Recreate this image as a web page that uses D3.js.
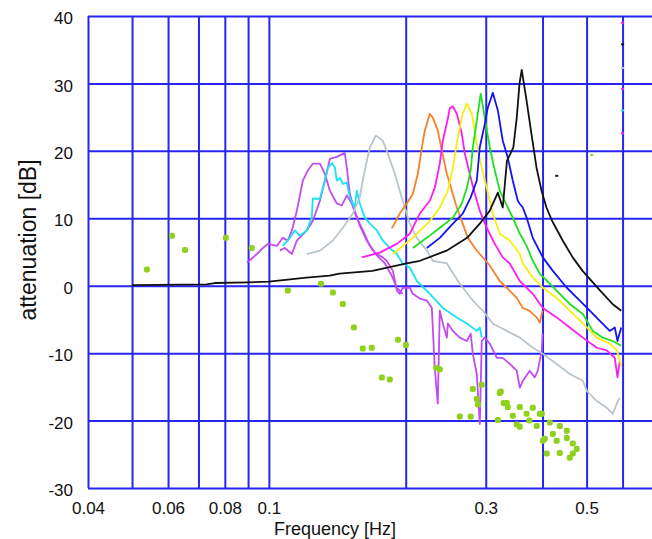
<!DOCTYPE html>
<html>
<head>
<meta charset="utf-8">
<script src="https://cdn.jsdelivr.net/npm/d3@7"></script>
<style>
  body { margin: 0; background: #fff; }
  svg { display: block; font-family: "Liberation Sans", Arial, sans-serif; }
</style>
</head>
<body>
<svg id="chart" width="652" height="539"></svg>
<script>
// ---- axis values ----
const xGrid = [0.04, 0.05, 0.06, 0.07, 0.08, 0.09, 0.1, 0.2, 0.3, 0.4, 0.5, 0.6];
const xLabels = [0.04, 0.06, 0.08, 0.1, 0.3, 0.5];
const yTicks = [-30, -20, -10, 0, 10, 20, 30, 40];

// ---- measured response curves: [frequency Hz, attenuation dB] ----
const blackCurve = [[0.05,0.1],[0.073,0.2],[0.076,0.4],[0.09,0.5],[0.1,0.6],[0.121,1.2],[0.136,1.5],[0.143,1.8],[0.169,2.2],[0.201,3.3],[0.215,3.7],[0.246,5.2],[0.273,7.1],[0.291,9.2],[0.306,11.1],[0.319,13.8],[0.327,11.6],[0.334,18.5],[0.345,20.5],[0.351,24.9],[0.356,30],[0.36,32],[0.369,27.4],[0.378,22.6],[0.388,17.5],[0.398,14.1],[0.408,11.6],[0.42,9.6],[0.443,6.7],[0.466,4.2],[0.49,2.2],[0.535,-0.7],[0.57,-2.7],[0.596,-3.7]];

const blueCurve = [[0.2226,5.6],[0.2377,7.1],[0.254,9.2],[0.267,10.7],[0.278,13.1],[0.2867,15.6],[0.291,20.5],[0.2986,24],[0.3031,26.4],[0.3109,28.6],[0.319,26],[0.327,21.5],[0.3354,19],[0.344,15.6],[0.3529,12.6],[0.356,12.2],[0.362,11.6],[0.369,10.1],[0.3807,7.1],[0.4006,4.2],[0.4214,2.2],[0.4524,-0.3],[0.4831,-2.2],[0.5082,-3.7],[0.5346,-5.2],[0.5623,-6.7],[0.5768,-6.2],[0.5848,-8.2],[0.596,-6.2]];

const greenCurve = [[0.2073,5.6],[0.2226,7.1],[0.2377,8.6],[0.254,10.1],[0.2657,12.2],[0.2726,14.5],[0.278,17.1],[0.281,20.5],[0.2867,24.5],[0.2925,28.5],[0.2986,24.9],[0.3062,20.5],[0.3141,17.1],[0.3221,14.1],[0.3337,11.9],[0.344,10.1],[0.3565,7.7],[0.369,5.9],[0.3807,3.7],[0.3945,1.8],[0.415,0.3],[0.4365,-1.2],[0.4592,-2.7],[0.4906,-4.2],[0.516,-6.7],[0.5429,-7.7],[0.5708,-8.2],[0.596,-8.9]];

const yellowCurve = [[0.1874,4.7],[0.2073,7.1],[0.226,9.6],[0.2377,11.6],[0.2476,14.1],[0.254,17.5],[0.2604,22],[0.267,25.5],[0.2726,27],[0.2796,25.5],[0.2867,21.1],[0.294,17.5],[0.3015,14.5],[0.3109,10.7],[0.3221,7.7],[0.3388,6.7],[0.3565,4.7],[0.362,3.3],[0.3807,1.2],[0.4006,-0.3],[0.4297,-1.8],[0.4592,-3.7],[0.4906,-5.6],[0.5265,-7.7],[0.5623,-8.6],[0.5826,-9.6],[0.596,-11.9]];

const magentaCurve = [[0.1601,4.2],[0.1754,4.9],[0.1912,6.2],[0.2042,7.7],[0.2148,10.7],[0.226,12.6],[0.2317,14.5],[0.2377,18.1],[0.2414,21.5],[0.2478,24.9],[0.25,26.3],[0.254,26.6],[0.2591,25.5],[0.2657,22.6],[0.2698,19.6],[0.278,16],[0.2839,13.6],[0.2911,11.1],[0.3015,8.6],[0.3141,6.2],[0.327,4.2],[0.3388,3.3],[0.3565,0.7],[0.3807,-1.2],[0.4006,-3.3],[0.4297,-4.7],[0.4592,-6.2],[0.4906,-7.7],[0.5265,-9.2],[0.5537,-9.6],[0.5768,-10.7],[0.5848,-13.6],[0.5916,-11.1]];

const orangeCurve = [[0.1864,8.5],[0.1941,10.7],[0.2011,12.2],[0.2073,13.6],[0.2127,16.6],[0.2171,20.5],[0.2203,23],[0.226,25.5],[0.2295,24.9],[0.2354,23],[0.2402,20],[0.2464,16.6],[0.2527,14.1],[0.2591,11.6],[0.267,9.2],[0.274,7.1],[0.2839,5.6],[0.2911,4.7],[0.3062,3],[0.3221,0.7],[0.3337,-0.3],[0.351,-1.8],[0.362,-3.3],[0.374,-3.7],[0.3885,-4.7],[0.3945,-5.5],[0.4,-3.7]];

const grayCurve = [[0.1212,4.7],[0.1295,5.2],[0.1383,6.7],[0.1455,8.6],[0.153,10.7],[0.1585,13.1],[0.1609,15.6],[0.1642,18.5],[0.1668,20.5],[0.1719,22.3],[0.1781,21.5],[0.1826,19.6],[0.1893,16.6],[0.1941,14.1],[0.197,12.6],[0.2042,9.2],[0.2116,7.1],[0.2226,5.2],[0.2295,3.7],[0.2464,3.3],[0.263,0.3],[0.281,-2.2],[0.2955,-3.7],[0.3109,-5.6],[0.3337,-6.7],[0.3565,-7.7],[0.3807,-9.2],[0.4006,-10.1],[0.4299,-11.6],[0.4592,-13.1],[0.4906,-14.1],[0.5006,-15.6],[0.5265,-17.1],[0.5537,-18.1],[0.5708,-19],[0.5826,-17.5],[0.5916,-16.6]];

const cyanCurve = [[0.1073,5.9],[0.1112,7.1],[0.1141,8.2],[0.117,7.4],[0.1212,8.2],[0.1243,10.1],[0.1249,12.9],[0.1295,12.9],[0.1328,15.6],[0.1349,17.5],[0.1376,18.2],[0.1397,17.5],[0.1411,15.6],[0.1433,16],[0.1455,15.1],[0.1484,15.3],[0.1507,13.1],[0.1545,11.6],[0.1561,14.1],[0.1585,12.2],[0.1626,10.1],[0.1668,9.2],[0.1728,8.2],[0.1781,6.7],[0.1845,5.6],[0.1912,4.7],[0.197,3.3],[0.2042,2.7],[0.2116,0.7],[0.226,-1.2],[0.2414,-3.3],[0.2591,-4.7],[0.2726,-5.6],[0.2867,-6.7],[0.2911,-6.2],[0.294,-7.7]];

const violetCurveA = [[0.0895,3.4],[0.0941,4.7],[0.097,5.6],[0.0995,6.2],[0.1041,5.9],[0.1073,7.1],[0.1101,6.7],[0.1124,8.2],[0.1152,11.1],[0.1188,15.6],[0.1218,17.1],[0.1249,18.1],[0.1295,18.1],[0.1328,16.6],[0.1362,14.1],[0.1411,12.2],[0.1447,11.9],[0.1484,13.4],[0.1522,12.2],[0.1561,10.1],[0.161,8.2],[0.1668,5.9],[0.1728,4.5],[0.1796,3.4],[0.1863,1.5],[0.1912,-0.3],[0.197,-1.2]];

const violetCurveB = [[0.1057,5.2],[0.1084,5.6],[0.1124,4.7],[0.1152,6.7],[0.1212,8.2],[0.1249,9.6],[0.1295,12.6],[0.1328,15.6],[0.1362,18.8],[0.1411,19.1],[0.1469,19.7],[0.1484,17.5],[0.1507,13.6],[0.1545,11.1],[0.1585,8.9],[0.1642,6.7],[0.1711,4.9],[0.1781,4.2],[0.1816,3.7],[0.1874,2.2],[0.1912,-0.7],[0.1941,-1.2],[0.197,-0.3],[0.2042,-0.3],[0.2073,-1.2],[0.2148,-1.9],[0.2226,-2.2],[0.2283,-3.3],[0.2317,-12.2],[0.2353,-17.5],[0.2377,-3.7],[0.2414,-5.6],[0.2464,-7.7],[0.2476,-5.6],[0.254,-6.7],[0.263,-7.7],[0.2726,-8.2],[0.278,-7.1],[0.281,-10.1],[0.2867,-13.1],[0.2911,-20.5],[0.294,-8.2],[0.2986,-7.7],[0.3062,-8.6],[0.3174,-10.7],[0.327,-10.7],[0.3388,-11.6],[0.351,-12.6],[0.3565,-15.1],[0.362,-14.1],[0.375,-12.6],[0.3845,-13.6],[0.3905,-12.6],[0.3985,-9.6],[0.4,-7.1]];

// ---- single measurements (scatter) ----
const scatterFreq = [0.0539,0.0612,0.0654,0.0804,0.0917,0.1101,0.1302,0.1383,0.1455,0.1538,0.1609,0.1684,0.1772,0.1845,0.1923,0.2002,0.2335,0.2377,0.263,0.2779,0.281,0.2867,0.2885,0.294,0.319,0.3237,0.3285,0.3354,0.3565,0.3807,0.369,0.3441,0.351,0.3565,0.374,0.3885,0.3985,0.4046,0.3945,0.415,0.4365,0.4524,0.4214,0.4297,0.4524,0.4663,0.4757,0.4592,0.4365,0.4087,0.4663,0.4006,0.3221,0.3337];
const scatterDb = [2.4,7.4,5.3,7.1,5.6,-0.7,0.3,-1.0,-2.7,-6.2,-9.3,-9.2,-13.6,-13.9,-8.0,-8.8,-12.2,-12.4,-19.4,-19.4,-15.3,-16.8,-17.6,-14.7,-19.9,-15.7,-17.4,-18.0,-18.0,-18.1,-19.0,-19.3,-20.6,-20.9,-20.0,-20.8,-19.0,-22.7,-19.0,-20.3,-20.8,-21.5,-22.0,-23.0,-22.6,-23.4,-24.2,-25.5,-24.8,-24.9,-24.9,-23.0,-15.9,-17.4];

// ---- isolated single-sample marks ----
const loneMarkFreq = [0.6, 0.6, 0.6, 0.6, 0.6, 0.6, 0.5133, 0.4299];
const loneMarkDb = [39, 35.8, 32.3, 29.2, 26, 22.6, 19.4, 16.3];
const loneMarkSeries = ["magenta", "black", "gray", "magenta", "cyan", "magenta", "scatter", "black"];

// ---- styling ----
const colors = {
  black: "#111111",
  blue: "#1414f0",
  green: "#1fe01f",
  yellow: "#f6ee10",
  magenta: "#ff1cf0",
  orange: "#f5822a",
  gray: "#b9c5cc",
  cyan: "#18e2f5",
  violet: "#c24cf0",
  scatter: "#8fd11c",
  grid: "#2626f0"
};

const series = [
  { data: violetCurveA, color: colors.violet },
  { data: violetCurveB, color: colors.violet },
  { data: cyanCurve, color: colors.cyan },
  { data: grayCurve, color: colors.gray },
  { data: orangeCurve, color: colors.orange },
  { data: magentaCurve, color: colors.magenta },
  { data: yellowCurve, color: colors.yellow },
  { data: greenCurve, color: colors.green },
  { data: blueCurve, color: colors.blue },
  { data: blackCurve, color: colors.black }
];

const svg = d3.select("#chart");
const plotLeft = 88, plotRight = 653, plotTop = 16, plotBottom = 488;

const x = d3.scaleLog().domain([0.04, 0.7]).range([plotLeft, plotRight]);
const y = d3.scaleLinear().domain([-30, 40]).range([plotBottom, plotTop]);

// grid + x labels
const xAxis = svg.append("g")
  .attr("transform", `translate(0,${plotBottom})`)
  .call(d3.axisBottom(x)
    .tickValues(xGrid)
    .tickSize(-(plotBottom - plotTop))
    .tickPadding(14)
    .tickFormat(d => xLabels.includes(d) ? String(d) : ""));

// grid + y labels
const yAxis = svg.append("g")
  .attr("transform", `translate(${plotLeft},0)`)
  .call(d3.axisLeft(y)
    .tickValues(yTicks)
    .tickSize(-(plotRight - plotLeft))
    .tickPadding(15)
    .tickFormat(d => String(d)));

[xAxis, yAxis].forEach(g => {
  g.select(".domain").remove();
  g.selectAll(".tick line").attr("stroke", colors.grid).attr("stroke-width", 2);
  g.selectAll(".tick text")
    .attr("fill", "#111")
    .style("font-size", "17px")
    .style("font-family", "'Liberation Sans', Arial, sans-serif");
});
yAxis.selectAll(".tick text").attr("dy", "0.45em");

// curves
const line = d3.line().x(d => x(d[0])).y(d => y(d[1]));
svg.append("g").selectAll("path")
  .data(series)
  .join("path")
  .attr("d", d => line(d.data))
  .attr("fill", "none")
  .attr("stroke", d => d.color)
  .attr("stroke-width", 1.8)
  .attr("stroke-linejoin", "round");

// scatter points
svg.append("g").selectAll("rect")
  .data(scatterFreq.map((f, i) => [f, scatterDb[i]]))
  .join("rect")
  .attr("x", d => x(d[0]) - 3)
  .attr("y", d => y(d[1]) - 3)
  .attr("width", 6)
  .attr("height", 6)
  .attr("rx", 2)
  .attr("fill", colors.scatter);

// isolated single samples
svg.append("g").selectAll("rect")
  .data(loneMarkFreq.map((f, i) => ({ f, db: loneMarkDb[i], s: loneMarkSeries[i] })))
  .join("rect")
  .attr("x", d => x(d.f) - 1.5)
  .attr("y", d => y(d.db) - 1)
  .attr("width", 3)
  .attr("height", 2)
  .attr("fill", d => colors[d.s]);

// axis titles
svg.append("text")
  .attr("x", 335)
  .attr("y", 535)
  .attr("text-anchor", "middle")
  .style("font-size", "18px")
  .attr("fill", "#111")
  .text("Frequency [Hz]");

svg.append("text")
  .attr("transform", "translate(36,240) rotate(-90)")
  .attr("text-anchor", "middle")
  .style("font-size", "23px")
  .attr("fill", "#111")
  .text("attenuation [dB]");
</script>
</body>
</html>
